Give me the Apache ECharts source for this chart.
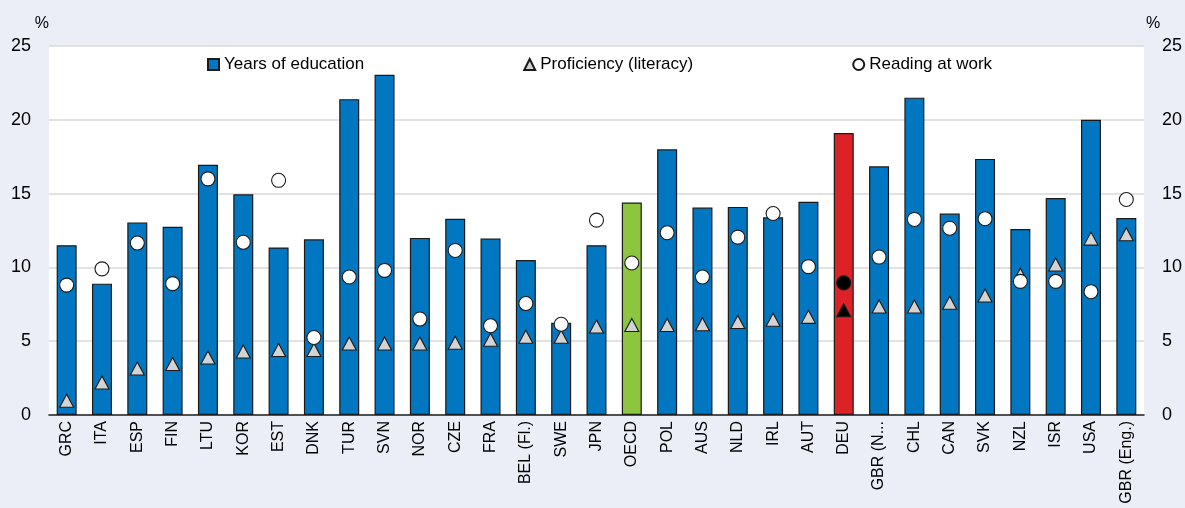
<!DOCTYPE html>
<html>
<head>
<meta charset="utf-8">
<script src="https://cdn.jsdelivr.net/npm/echarts@6/dist/echarts.min.js"></script>
<style>
  html, body { margin: 0; padding: 0; background: #EBEEF7; }
  #chart { width: 1185px; height: 508px; }
</style>
</head>
<body>
<div id="chart"></div>
<script>
// 数据
const categories = ['GRC', 'ITA', 'ESP', 'FIN', 'LTU', 'KOR', 'EST', 'DNK', 'TUR', 'SVN', 'NOR', 'CZE', 'FRA', 'BEL (Fl.)', 'SWE', 'JPN', 'OECD', 'POL', 'AUS', 'NLD', 'IRL', 'AUT', 'DEU', 'GBR (N...', 'CHL', 'CAN', 'SVK', 'NZL', 'ISR', 'USA', 'GBR (Eng.)'];
const yearsOfEducation = [11.5, 8.9, 13.05, 12.75, 16.95, 14.95, 11.35, 11.9, 21.4, 23.05, 12.0, 13.3, 11.95, 10.5, 6.25, 11.5, 14.4, 18.0, 14.05, 14.1, 13.4, 14.45, 19.1, 16.85, 21.5, 13.65, 17.35, 12.6, 14.7, 20.0, 13.35];
const proficiency = [0.97, 2.2, 3.15, 3.45, 3.9, 4.3, 4.4, 4.4, 4.85, 4.85, 4.85, 4.9, 5.1, 5.3, 5.3, 6.0, 6.1, 6.1, 6.15, 6.3, 6.45, 6.65, 7.1, 7.35, 7.35, 7.6, 8.1, 9.5, 10.2, 11.95, 12.25];
const readingAtWork = [8.8, 9.9, 11.65, 8.9, 16.0, 11.7, 15.9, 5.25, 9.35, 9.8, 6.5, 11.15, 6.05, 7.55, 6.15, 13.2, 10.3, 12.35, 9.35, 12.05, 13.65, 10.05, 8.95, 10.7, 13.25, 12.65, 13.3, 9.05, 9.05, 8.35, 14.6];
const yTicks = [0, 25, 5];

const BLUE = '#0077C0';
const EDGE = '#1a1a1a';
const FONT = '"Liberation Sans", Arial, sans-serif';

// 柱子颜色：OECD 绿色，DEU 红色
function barItems() {
    return yearsOfEducation.map((v, i) => {
        const c = categories[i];
        if (c === 'OECD') return { value: v, itemStyle: { color: '#8CC63F' } };
        if (c === 'DEU') return { value: v, itemStyle: { color: '#DC2127' } };
        return v;
    });
}

// 德国的点为黑色
function pointItems(arr) {
    return arr.map((v, i) => categories[i] === 'DEU' ? { value: v, itemStyle: { color: '#000' } } : v);
}

function yAxisCfg(pos) {
    return {
        type: 'value',
        position: pos,
        min: yTicks[0],
        max: yTicks[1],
        interval: yTicks[2],
        name: '%',
        nameLocation: 'end',
        nameGap: 14,
        nameTextStyle: {
            color: '#000', fontFamily: FONT, fontSize: 16,
            align: pos === 'left' ? 'right' : 'left',
            padding: pos === 'left' ? [0, 0, 0, 0] : [0, 0, 0, 2]
        },
        axisLine: { show: false },
        axisTick: { show: false },
        axisLabel: { color: '#000', fontFamily: FONT, fontSize: 18, margin: 18 },
        splitLine: pos === 'left' ? { lineStyle: { color: '#D9D9D9', width: 1.5 } } : { show: false }
    };
}

const chart = echarts.init(document.getElementById('chart'));
chart.setOption({
    backgroundColor: '#EBEEF7',
    animation: false,
    textStyle: { fontFamily: FONT },
    grid: {
        left: 49, right: 40, top: 46, bottom: 93,
        show: true, backgroundColor: '#fff', borderWidth: 0
    },
    legend: {
        left: 207,
        top: 56,
        padding: 0,
        itemWidth: 11,
        itemHeight: 11,
        itemGap: 159,
        itemTextGap: 5,
        textStyle: { color: '#000', fontSize: 17, fontFamily: FONT },
        data: [
            { name: 'Years of education', icon: 'rect' },
            { name: 'Proficiency (literacy)', icon: 'triangle' },
            { name: 'Reading at work', icon: 'circle' }
        ]
    },
    xAxis: {
        type: 'category',
        data: categories,
        axisLine: { lineStyle: { color: '#222', width: 1.5 } },
        axisTick: { show: false },
        axisLabel: { interval: 0, rotate: 90, color: '#000', fontSize: 16, fontFamily: FONT, margin: 6 }
    },
    yAxis: [yAxisCfg('left'), yAxisCfg('right')],
    series: [
        {
            name: 'Years of education',
            type: 'bar',
            barWidth: 20,
            data: barItems(),
            itemStyle: { color: BLUE, borderColor: EDGE, borderWidth: 1.2 }
        },
        {
            name: 'Proficiency (literacy)',
            type: 'scatter',
            symbol: 'triangle',
            symbolSize: [14, 13],
            data: pointItems(proficiency),
            itemStyle: { color: '#D3D3D3', borderColor: EDGE, borderWidth: 1.1, opacity: 1 },
            z: 3
        },
        {
            name: 'Reading at work',
            type: 'scatter',
            symbol: 'circle',
            symbolSize: 14,
            data: pointItems(readingAtWork),
            itemStyle: { color: '#fff', borderColor: EDGE, borderWidth: 1.1, opacity: 1 },
            z: 4
        }
    ]
});
</script>
</body>
</html>
